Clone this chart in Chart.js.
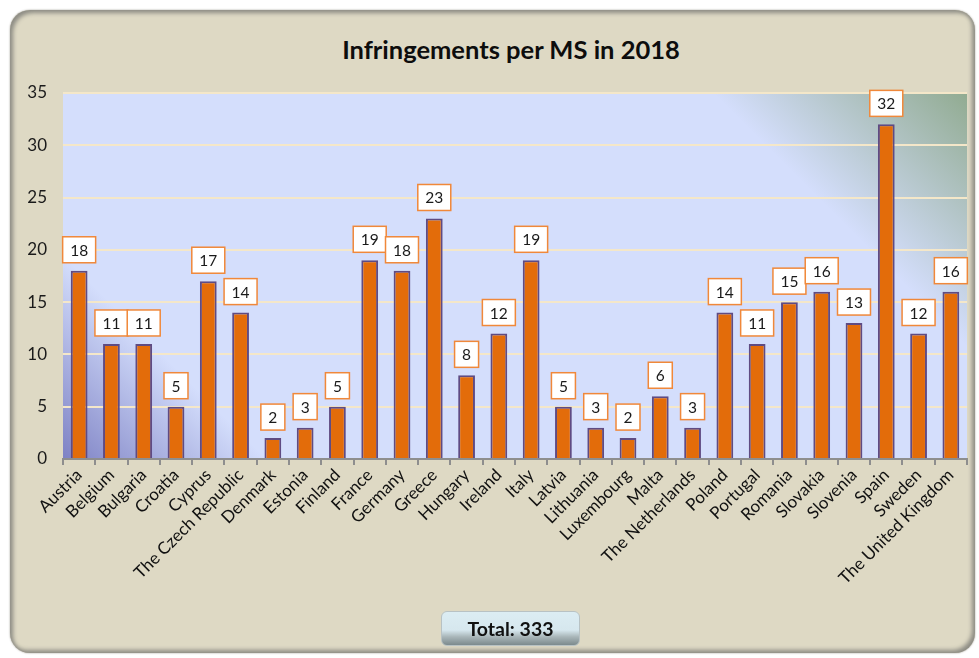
<!DOCTYPE html>
<html>
<head>
<meta charset="utf-8">
<script src="https://cdn.jsdelivr.net/npm/chart.js@4.4.0/dist/chart.umd.min.js"></script>
<style>
  body { margin: 0; width: 979px; height: 658px; background: #ffffff; position: relative; overflow: hidden; font-family: Lato, "Open Sans", sans-serif; }
  #panel {
    position: absolute; left: 10px; top: 10px; width: 965px; height: 643px;
    background: #ded9c4; border-radius: 20px;
    box-shadow: inset 3px 3px 4px #8d8c84, inset -3px -3px 4px #8d8c84, 0 0 2px #9a988e;
  }
  #title {
    position: absolute; left: 0; top: 34px; width: 1022px; text-align: center;
    font-weight: bold; font-size: 25.5px; color: #0d0d0d;
  }
  #total {
    position: absolute; left: 441px; top: 611px; width: 139px; height: 35px;
    border-radius: 6px; border: 1px solid #b8c2c4;
    background: linear-gradient(#dcedf3 0%, #d6e7ee 55%, #a9b6b9 75%, #7c8a8d 100%);
    text-align: center; line-height: 33px; font-weight: bold; font-size: 19.5px; color: #111;
    box-sizing: border-box;
  }
  canvas { position: absolute; left: 0; top: 0; }
</style>
</head>
<body>
<div id="panel"></div>
<div id="title">Infringements per MS in 2018</div>
<canvas id="chart" width="979" height="658"></canvas>
<div id="total">Total: 333</div>
<script>
// =====================
// Data
// =====================
const countries = ['Austria', 'Belgium', 'Bulgaria', 'Croatia', 'Cyprus', 'The Czech Republic', 'Denmark', 'Estonia',
    'Finland', 'France', 'Germany', 'Greece', 'Hungary', 'Ireland', 'Italy', 'Latvia', 'Lithuania', 'Luxembourg',
    'Malta', 'The Netherlands', 'Poland', 'Portugal', 'Romania', 'Slovakia', 'Slovenia', 'Spain', 'Sweden',
    'The United Kingdom'];
const infringements = [18, 11, 11, 5, 17, 14, 2, 3, 5, 19, 18, 23, 8, 12, 19, 5, 3, 2, 6, 3, 14, 11, 15, 16, 13, 32, 12, 16];
const yTicks = [0, 5, 10, 15, 20, 25, 30, 35];

// =====================
// Plot background (diagonal gradient)
// =====================
const plotBackground = {
    id: 'plotBackground',
    beforeDraw(chart) {
        const { ctx, chartArea: a } = chart;
        const span = (a.right - a.left) + (a.bottom - a.top);
        const g = ctx.createLinearGradient(a.left, a.bottom, a.left + span / 2, a.bottom - span / 2);
        g.addColorStop(0, '#7e82c4');
        g.addColorStop(0.16, '#d4defc');
        g.addColorStop(0.8, '#d4defc');
        g.addColorStop(1, '#91ab91');
        ctx.save();
        ctx.fillStyle = g;
        ctx.fillRect(a.left, a.top, a.right - a.left, a.bottom - a.top);
        ctx.restore();
    }
};

// =====================
// Boxed value labels
// =====================
const boxLabels = {
    id: 'boxLabels',
    afterDatasetsDraw(chart) {
        const { ctx } = chart;
        const meta = chart.getDatasetMeta(0);
        ctx.save();
        ctx.font = '15.5px Lato, "Open Sans", sans-serif';
        ctx.textAlign = 'center';
        ctx.textBaseline = 'middle';
        meta.data.forEach((bar, i) => {
            const txt = String(infringements[i]);
            const w = ctx.measureText(txt).width + 15;
            const h = 26;
            const bottom = bar.y - 8;
            ctx.fillStyle = '#ffffff';
            ctx.fillRect(bar.x - w / 2, bottom - h, w, h);
            ctx.strokeStyle = '#f0883a';
            ctx.lineWidth = 1.5;
            ctx.strokeRect(bar.x - w / 2, bottom - h, w, h);
            ctx.fillStyle = '#1a1a1a';
            ctx.fillText(txt, bar.x, bottom - h / 2 + 1);
        });
        ctx.restore();
    }
};

new Chart(document.getElementById('chart'), {
    type: 'bar',
    data: {
        labels: countries,
        datasets: [{
            data: infringements,
            backgroundColor: '#e36c0a',
            borderColor: '#5f4b83',
            borderWidth: 2,
            borderSkipped: 'bottom',
            barPercentage: 0.52,
            categoryPercentage: 1
        }]
    },
    options: {
        responsive: false,
        animation: false,
        layout: { padding: { top: 93, right: 12, left: 0, bottom: 0 } },
        plugins: { legend: { display: false }, tooltip: { enabled: false }, title: { display: false } },
        scales: {
            x: {
                afterFit: s => { s.height = 199; },
                grid: { offset: true, drawOnChartArea: false, drawTicks: true, tickLength: 6, color: '#8e8e8e', lineWidth: 2 },
                border: { display: true, color: '#8e8e8e', width: 2 },
                ticks: { maxRotation: 45, minRotation: 45, autoSkip: false, color: '#111', padding: 0,
                    font: { family: 'Lato, "Open Sans", sans-serif', size: 17 } }
            },
            y: {
                min: 0, max: 35,
                afterFit: s => { s.width = 63; },
                afterBuildTicks: s => { s.ticks = yTicks.map(v => ({ value: v })); },
                grid: { color: '#f4e7c9', lineWidth: 2, drawTicks: false },
                border: { display: false },
                ticks: { color: '#1a1a1a', padding: 16, font: { family: 'Lato, "Open Sans", sans-serif', size: 17 } }
            }
        }
    },
    plugins: [plotBackground, boxLabels]
});
</script>
</body>
</html>
